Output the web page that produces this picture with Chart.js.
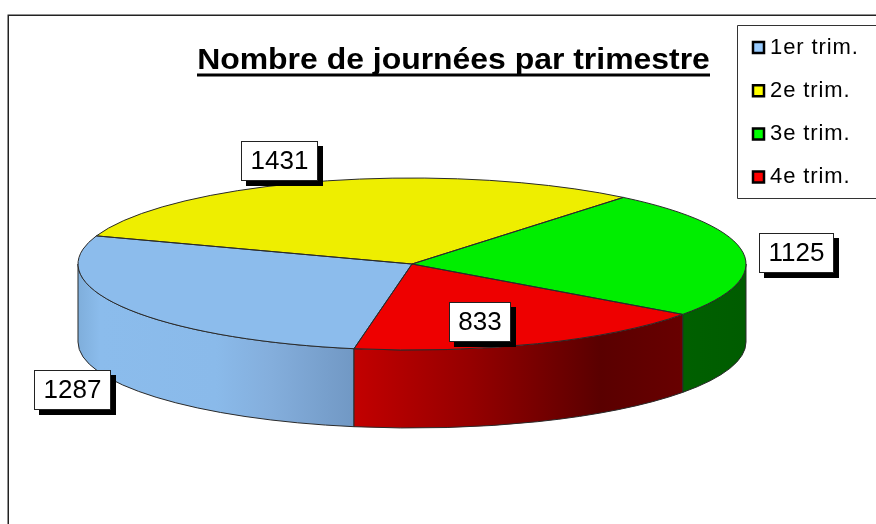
<!DOCTYPE html>
<html>
<head>
<meta charset="utf-8">
<style>
  html, body { margin: 0; padding: 0; background: #fff; overflow: hidden; }
  canvas { display: block; }
</style>
<script src="https://cdn.jsdelivr.net/npm/chart.js@4/dist/chart.umd.js"></script>
</head>
<body>
<canvas id="chartOne" width="876" height="524"></canvas>
<script>
const categories = ["1er trim.", "2e trim.", "3e trim.", "4e trim."]
const values = [1287, 1431, 1125, 833]
const topColors = ["#8CBCEC", "#EEEE00", "#00EE00", "#EE0000"]
const legendColors = ["#99CCFF", "#FFFF00", "#00FF00", "#FF0000"]
const titleText = "Nombre de journées par trimestre"

// label boxes, left/top in pixels, same order as the values
const labelBoxes = [[34, 370], [241, 141], [759, 233], [449, 302]]

// side wall shading, stops go left to right over the slice
const sideStops = [
    [[0, "#7FAEDB"], [0.08, "#8BBCEC"], [0.5, "#8ABAEA"], [0.7, "#84AEDC"], [1, "#7198C4"]],
    [[0, "#808000"], [1, "#808000"]],
    [[0, "#006000"], [1, "#005C00"]],
    [[0, "#C20000"], [0.35, "#960000"], [0.75, "#5A0000"], [1, "#680000"]]
]

// where the pie goes on the page
const pie = { x: 412, y: 264, rx: 334, ry: 86, depth: 78 }
const lineColor = "#2a2a2a"

const arcsOf = function(chart){
    return chart.getDatasetMeta(0).data
}

// the original text is a bit wider than Liberation Sans
const widenLegend = function(box, ctx){
    const draw = box.draw
    box.draw = function(){
        ctx.save()
        ctx.letterSpacing = "0.9px"
        draw.apply(box, arguments)
        ctx.restore()
    }
    box.widened = true
}

const widenTitle = function(box, ctx){
    const draw = box.draw
    box.draw = function(){
        const mid = (box.left + box.right) / 2
        ctx.save()
        ctx.translate(mid, 0)
        ctx.scale(1.064, 1)
        ctx.translate(-mid, 0)
        draw.apply(box, arguments)
        ctx.restore()
    }
    box.widened = true
}

const drawSides = function(ctx, arcs){
    arcs.forEach((arc, i) => {
        // only the part of the rim facing us, angles 0 to PI and one turn later
        [0, 2 * Math.PI].forEach(k => {
            const from = Math.max(arc.startAngle, k)
            const to = Math.min(arc.endAngle, k + Math.PI)
            if(from >= to) return
            const x1 = pie.x + pie.rx * Math.cos(from)
            const x2 = pie.x + pie.rx * Math.cos(to)
            const left = Math.min(x1, x2)
            const right = Math.max(x1, x2)
            const grad = ctx.createLinearGradient(left, 0, right, 0)
            sideStops[i].forEach(s => grad.addColorStop(s[0], s[1]))
            ctx.beginPath()
            ctx.ellipse(pie.x, pie.y, pie.rx, pie.ry, 0, from, to)
            ctx.ellipse(pie.x, pie.y + pie.depth, pie.rx, pie.ry, 0, to, from, true)
            ctx.closePath()
            ctx.fillStyle = grad
            ctx.fill()
            ctx.strokeStyle = lineColor
            ctx.lineWidth = 1
            ctx.stroke()
        })
    })
}

const drawOutlines = function(ctx, arcs){
    ctx.strokeStyle = lineColor
    ctx.lineWidth = 1
    arcs.forEach(arc => {
        ctx.beginPath()
        ctx.moveTo(pie.x, pie.y)
        ctx.ellipse(pie.x, pie.y, pie.rx, pie.ry, 0, arc.startAngle, arc.endAngle)
        ctx.closePath()
        ctx.stroke()
    })
}

const drawLabels = function(ctx){
    ctx.font = "26px 'Liberation Sans'"
    ctx.textAlign = "center"
    ctx.textBaseline = "middle"
    values.forEach((v, i) => {
        const text = String(v)
        const w = Math.round(ctx.measureText(text).width) + 18
        const h = 39
        const bx = labelBoxes[i][0]
        const by = labelBoxes[i][1]
        ctx.fillStyle = "#000"
        ctx.fillRect(bx + 5, by + 5, w + 1, h + 1)
        ctx.fillStyle = "#fff"
        ctx.fillRect(bx, by, w, h)
        ctx.strokeStyle = "#222"
        ctx.lineWidth = 1
        ctx.strokeRect(bx + 0.5, by + 0.5, w, h)
        ctx.fillStyle = "#000"
        ctx.fillText(text, bx + w / 2 + 0.5, by + h / 2 + 1.5)
    })
}

const flatPie = {
    id: "flatPie",
    afterLayout(chart){
        // title and legend do not sit where the layout boxes would put them
        const t = chart.titleBlock
        t.left = 197
        t.right = 710
        t.top = 43
        t.bottom = 78
        const l = chart.legend
        l.left = 736.8
        l.right = 876
        l.top = 15.3
        l.bottom = 300
        if(!t.widened) widenTitle(t, chart.ctx)
        if(!l.widened) widenLegend(l, chart.ctx)
    },
    beforeDraw(chart){
        const ctx = chart.ctx
        ctx.save()
        ctx.fillStyle = "#fff"
        ctx.fillRect(0, 0, chart.width, chart.height)
        // outer frame, only top and left show
        ctx.strokeStyle = "#222"
        ctx.lineWidth = 1.5
        ctx.beginPath()
        ctx.moveTo(8.25, 524)
        ctx.lineTo(8.25, 15.25)
        ctx.lineTo(876, 15.25)
        ctx.stroke()
        // legend frame runs off the right side
        ctx.lineWidth = 1
        ctx.strokeStyle = "#333"
        ctx.beginPath()
        ctx.moveTo(880, 25.5)
        ctx.lineTo(737.5, 25.5)
        ctx.lineTo(737.5, 198.5)
        ctx.lineTo(880, 198.5)
        ctx.stroke()
        ctx.restore()
    },
    beforeDatasetsDraw(chart){
        const ctx = chart.ctx
        const arcs = arcsOf(chart)
        ctx.save()
        drawSides(ctx, arcs)
        const a = arcs[0]
        ctx.translate(pie.x, pie.y)
        ctx.scale(pie.rx / a.outerRadius, pie.ry / a.outerRadius)
        ctx.translate(-a.x, -a.y)
    },
    afterDatasetsDraw(chart){
        const ctx = chart.ctx
        ctx.restore()
        ctx.save()
        drawOutlines(ctx, arcsOf(chart))
        ctx.restore()
    },
    afterDraw(chart){
        const ctx = chart.ctx
        const t = chart.titleBlock
        ctx.save()
        // Chart.js titles have no underline
        ctx.fillStyle = "#000"
        ctx.fillRect(t.left, 73.5, t.right - t.left, 3)
        drawLabels(ctx)
        ctx.restore()
    }
}

const config = {
    type: "pie",
    data: {
        labels: categories,
        datasets: [{
            data: values,
            backgroundColor: topColors,
            borderWidth: 0,
            clip: false
        }]
    },
    options: {
        responsive: false,
        animation: false,
        rotation: 190,
        layout: { padding: 0 },
        plugins: {
            tooltip: { enabled: false },
            title: {
                display: true,
                text: titleText,
                color: "#000",
                padding: 0,
                font: { family: "'Liberation Sans'", size: 30, weight: "bold", lineHeight: 1.15 }
            },
            legend: {
                position: "right",
                align: "start",
                labels: {
                    usePointStyle: true,
                    boxWidth: 1,
                    boxHeight: 11,
                    padding: 21.2,
                    color: "#000",
                    font: { family: "'Liberation Sans'", size: 22, lineHeight: 1 },
                    generateLabels(){
                        return categories.map((c, i) => ({
                            text: c,
                            fillStyle: legendColors[i],
                            strokeStyle: "#000",
                            lineWidth: 2.5,
                            pointStyle: "rect",
                            fontColor: "#000",
                            index: i
                        }))
                    }
                }
            }
        }
    },
    plugins: [flatPie]
}

new Chart(document.querySelector("#chartOne"), config)
</script>
</body>
</html>
